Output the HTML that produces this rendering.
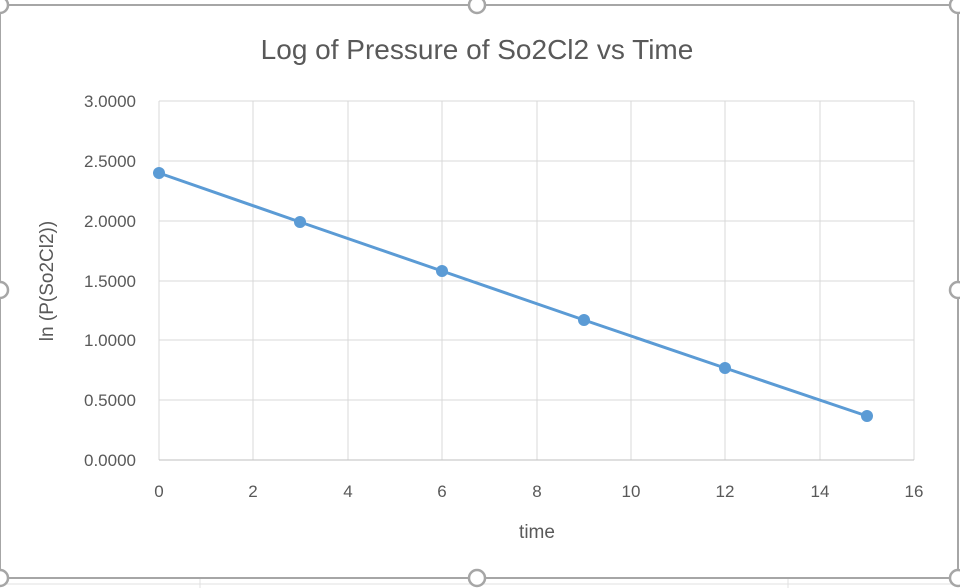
<!DOCTYPE html>
<html><head><style>body{margin:0;background:#fff}svg{display:block}</style></head><body>
<svg width="960" height="588" xmlns="http://www.w3.org/2000/svg" font-family="Liberation Sans, sans-serif">
<rect width="960" height="588" fill="#fff"/>
<line x1="0" y1="584" x2="960" y2="584" stroke="#e0e0e0" stroke-width="1"/>
<line x1="200" y1="578" x2="200" y2="588" stroke="#e0e0e0"/>
<line x1="788" y1="578" x2="788" y2="588" stroke="#e0e0e0"/>
<rect x="0" y="5" width="958" height="573" fill="none" stroke="#a6a6a6" stroke-width="2"/>
<g fill="#fff" stroke="#a6a6a6" stroke-width="2.5">
<circle cx="0" cy="5" r="8"/><circle cx="477" cy="5" r="8"/><circle cx="958" cy="5" r="8"/>
<circle cx="0" cy="290" r="8"/><circle cx="958" cy="290" r="8"/>
<circle cx="0" cy="578" r="8"/><circle cx="477" cy="578" r="8"/><circle cx="958" cy="578" r="8"/>
</g>
<text x="477" y="59" text-anchor="middle" font-size="28" fill="#595959">Log of Pressure of So2Cl2 vs Time</text>
<g stroke="#d9d9d9" stroke-width="1">
<line x1="159" y1="101" x2="914" y2="101"/><line x1="159" y1="161" x2="914" y2="161"/>
<line x1="159" y1="221" x2="914" y2="221"/><line x1="159" y1="281" x2="914" y2="281"/>
<line x1="159" y1="340" x2="914" y2="340"/><line x1="159" y1="400" x2="914" y2="400"/>
<line x1="159" y1="101" x2="159" y2="460"/><line x1="253" y1="101" x2="253" y2="460"/>
<line x1="348" y1="101" x2="348" y2="460"/><line x1="442" y1="101" x2="442" y2="460"/>
<line x1="537" y1="101" x2="537" y2="460"/><line x1="631" y1="101" x2="631" y2="460"/>
<line x1="725" y1="101" x2="725" y2="460"/><line x1="820" y1="101" x2="820" y2="460"/>
<line x1="914" y1="101" x2="914" y2="460"/>
</g>
<line x1="159" y1="460" x2="914" y2="460" stroke="#bfbfbf"/>
<g font-size="17" fill="#595959" text-anchor="end">
<text x="136" y="107">3.0000</text><text x="136" y="167">2.5000</text><text x="136" y="227">2.0000</text>
<text x="136" y="287">1.5000</text><text x="136" y="346">1.0000</text><text x="136" y="406">0.5000</text>
<text x="136" y="466">0.0000</text>
</g>
<g font-size="17" fill="#595959" text-anchor="middle">
<text x="159" y="497">0</text><text x="253" y="497">2</text><text x="348" y="497">4</text><text x="442" y="497">6</text>
<text x="537" y="497">8</text><text x="631" y="497">10</text><text x="725" y="497">12</text><text x="820" y="497">14</text><text x="914" y="497">16</text>
</g>
<text x="537" y="538" text-anchor="middle" font-size="19" fill="#595959">time</text>
<text transform="translate(53,281) rotate(-90)" text-anchor="middle" font-size="19" fill="#595959">ln (P(So2Cl2))</text>
<polyline points="159,173 300,222 442,271 584,320 725,368 867,416" fill="none" stroke="#5b9bd5" stroke-width="3"/>
<g fill="#5b9bd5">
<circle cx="159" cy="173" r="6"/><circle cx="300" cy="222" r="6"/><circle cx="442" cy="271" r="6"/>
<circle cx="584" cy="320" r="6"/><circle cx="725" cy="368" r="6"/><circle cx="867" cy="416" r="6"/>
</g>
</svg>
</body></html>
